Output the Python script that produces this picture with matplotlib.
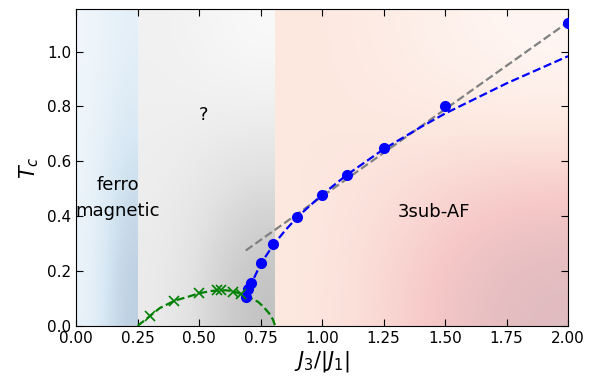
import matplotlib.pyplot as plt
import numpy as np
from matplotlib.colors import LinearSegmentedColormap

# phase boundaries
ferro_edge = 0.25
af_edge = 0.81

# 3sub-AF transition temperatures (blue dots)
j3_af = [0.69, 0.70, 0.71, 0.75, 0.80, 0.90, 1.00, 1.10, 1.25, 1.50, 2.00]
tc_af = [0.107, 0.134, 0.158, 0.231, 0.297, 0.397, 0.478, 0.549, 0.648, 0.800, 1.105]

# fitted curve through the AF points (blue dashed)
j3_fit = [0.69, 0.70, 0.72, 0.75, 0.80, 0.85, 0.90, 1.00, 1.10, 1.25, 1.40, 1.50, 1.75, 2.00]
tc_fit = [0.095, 0.122, 0.168, 0.225, 0.293, 0.348, 0.397, 0.478, 0.550, 0.644, 0.724, 0.774, 0.884, 0.983]

# linear asymptote (gray dashed)
j3_lin = [0.69, 2.00]
tc_lin = [0.275, 1.107]

# dome of the unknown phase (green crosses and dashed line)
j3_dome = [0.30, 0.40, 0.50, 0.575, 0.59, 0.64, 0.67]
tc_dome = [0.036, 0.092, 0.119, 0.131, 0.131, 0.125, 0.115]
j3_dome_line = [0.25, 0.30, 0.34, 0.40, 0.45, 0.50, 0.545, 0.58, 0.61, 0.64, 0.67,
                0.707, 0.74, 0.762, 0.785, 0.80, 0.81]
tc_dome_line = [0.0, 0.036, 0.065, 0.092, 0.105, 0.119, 0.127, 0.130, 0.130, 0.126, 0.117,
                0.103, 0.088, 0.070, 0.046, 0.024, 0.0]

x_max = 2.0
y_max = 1.155

plt.rcParams["font.family"] = "DejaVu Sans"

fig = plt.figure(figsize=(6.0, 3.81), dpi=100)
ax = fig.add_axes([0.1267, 0.1444, 0.82, 0.832])


def shade(ax, x0, x1, colors, corners):
    cmap = LinearSegmentedColormap.from_list("bg", colors)
    ax.imshow(np.array(corners), extent=(x0, x1, 0, y_max), cmap=cmap, vmin=0, vmax=1,
              interpolation="bicubic", aspect="auto", zorder=0)


shade(ax, 0.0, ferro_edge, ["#f3f8fc", "#d8e8f4", "#b9cde0"], [[0.05, 0.25], [0.15, 1.0]])
shade(ax, ferro_edge, af_edge, ["#fbfbfb", "#e2e2e2", "#bebebe"], [[0.2, 0.0], [0.3, 1.0]])
shade(ax, af_edge, x_max, ["#fffaf8", "#fde8e0", "#f6c8c8", "#dbb8bd"], [[0.35, 0.02], [0.3, 1.0]])

ax.plot(j3_lin, tc_lin, "--", color="gray", lw=1.6, zorder=2)
ax.plot(j3_fit, tc_fit, "--", color="blue", lw=1.6, zorder=3)
ax.plot(j3_af, tc_af, "o", color="blue", ms=7, zorder=4)
ax.plot(j3_dome_line, tc_dome_line, "--", color="green", lw=1.6, zorder=3)
ax.plot(j3_dome, tc_dome, "x", color="green", ms=7, mew=1.2, zorder=4)

ax.text(0.17, 0.466, "ferro\nmagnetic", ha="center", va="center", fontsize=13, linespacing=1.6)
ax.text(0.517, 0.77, "?", ha="center", va="center", fontsize=13)
ax.text(1.453, 0.417, "3sub-AF", ha="center", va="center", fontsize=13)

ax.set_xlim(0, x_max)
ax.set_ylim(0, y_max)
ax.set_xticks(np.arange(0, 2.01, 0.25))
ax.set_yticks(np.arange(0, 1.01, 0.2))
ax.set_xticklabels([f"{v:.2f}" for v in np.arange(0, 2.01, 0.25)])
ax.set_yticklabels([f"{v:.1f}" for v in np.arange(0, 1.01, 0.2)])
ax.tick_params(direction="in", top=True, right=True, labelsize=11, length=5)
ax.set_xlabel(r"$J_3/|J_1|$", fontsize=15, labelpad=2)
ax.set_ylabel(r"$T_c$", fontsize=15)

fig.savefig("out.png", dpi=100)
plt.close(fig)
